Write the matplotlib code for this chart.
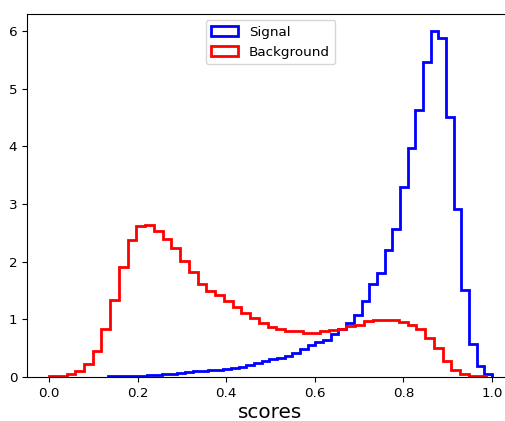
import numpy as np
import matplotlib
matplotlib.use("Agg")
import matplotlib.pyplot as plt

# =====================================================
# DATA (density per bin)
# =====================================================
sig_range = (0.1336, 1.0)
sig_density = [0.01, 0.01, 0.01, 0.02, 0.02, 0.03, 0.03, 0.05, 0.06, 0.07,
               0.09, 0.10, 0.11, 0.12, 0.13, 0.14, 0.15, 0.18, 0.20, 0.24,
               0.28, 0.31, 0.33, 0.37, 0.42, 0.49, 0.56, 0.61, 0.65, 0.74,
               0.84, 0.93, 1.07, 1.31, 1.62, 1.81, 2.20, 2.56, 3.30, 3.97,
               4.63, 5.47, 6.00, 5.87, 4.51, 2.91, 1.51, 0.57, 0.19, 0.06]

bkg_range = (0.0, 0.987)
bkg_density = [0.01, 0.02, 0.05, 0.11, 0.23, 0.45, 0.84, 1.34, 1.91, 2.37,
               2.61, 2.63, 2.54, 2.39, 2.23, 2.02, 1.82, 1.62, 1.49, 1.42,
               1.32, 1.21, 1.11, 1.02, 0.93, 0.87, 0.83, 0.80, 0.80, 0.77,
               0.77, 0.80, 0.82, 0.84, 0.89, 0.90, 0.97, 0.99, 0.98, 0.99,
               0.95, 0.90, 0.83, 0.68, 0.50, 0.28, 0.12, 0.05, 0.02, 0.01]

labels = ["Signal", "Background"]
x_ticks = [0.0, 0.2, 0.4, 0.6, 0.8, 1.0]

# =====================================================
# PLOT
# =====================================================
fig = plt.figure(figsize=(5.06, 4.21), dpi=100)
ax = fig.add_axes([0.0531, 0.1045, 0.963, 0.863])

sig_edges = np.linspace(sig_range[0], sig_range[1], len(sig_density) + 1)
bkg_edges = np.linspace(bkg_range[0], bkg_range[1], len(bkg_density) + 1)

ax.hist(sig_edges[:-1], bins=sig_edges, weights=sig_density,
        histtype='step', color='blue', linewidth=2, label=labels[0])
ax.hist(bkg_edges[:-1], bins=bkg_edges, weights=bkg_density,
        histtype='step', color='red', linewidth=2, label=labels[1])

ax.set_xlim(-0.05, 1.05)
ax.set_ylim(0, 6.3)
ax.set_xticks(x_ticks)
ax.tick_params(labelsize=9.7)
ax.set_xlabel("scores", fontsize=14.4, labelpad=2)
ax.legend(loc='upper center', fontsize=9.7)

fig.savefig("out.png", dpi=100)
